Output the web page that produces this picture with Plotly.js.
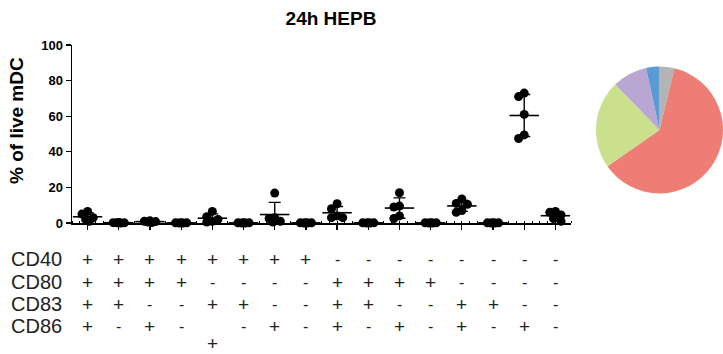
<!DOCTYPE html>
<html>
<head>
<meta charset="utf-8">
<script src="https://cdn.plot.ly/plotly-3.0.1.min.js"></script>
<style>html,body{margin:0;padding:0;background:#fff;}#chart{width:723px;height:354px;}</style>
</head>
<body>
<div id="chart"></div>
<script>
// ---- data ----
const groups = [1,2,3,4,5,6,7,8,9,10,11,12,13,14,15,16];
const values = [
  [6.5, 5, 3, 2, 1],
  [0.3, 0.2, 0.1, 0.1, 0],
  [1.2, 1, 0.8, 0.5, 0.3],
  [0.2, 0.1, 0.1, 0, 0],
  [6.5, 3.5, 2, 1, 0.5],
  [0.2, 0.1, 0.1, 0, 0],
  [16.8, 3, 2.5, 1, 0.5],
  [0.2, 0.1, 0.1, 0, 0],
  [10.8, 8, 4, 3, 3],
  [0.2, 0.1, 0.1, 0, 0],
  [17, 9.5, 9, 4, 2.5],
  [0.2, 0.1, 0.1, 0, 0],
  [13.5, 11, 10.5, 7, 6],
  [0.2, 0.1, 0.1, 0, 0],
  [73, 71, 61, 49.5, 47.5],
  [6.5, 6, 4.5, 2.5, 1]
];
const rowLabels = ['CD40', 'CD80', 'CD83', 'CD86', ''];
const cd40 = ['+','+','+','+','+','+','+','+','-','-','-','-','-','-','-','-'];
const cd80 = ['+','+','+','+','-','-','-','-','+','+','+','+','-','-','-','-'];
const cd83 = ['+','+','-','-','+','+','-','-','+','+','-','-','+','+','-','-'];
const cd86 = ['+','-','+','-','','-','+','-','+','-','+','-','+','-','+','-'];
const extraRow = ['','','','','+','','','','','','','','','','',''];
const yTicks = [0, 20, 40, 60, 80, 100];
const pieLabels = ['grey', 'red', 'green', 'purple', 'blue'];
const pieValues = [3.8, 61.5, 22.4, 8.9, 3.4];
const pieColors = ['#b4b4b4', '#ee7d75', '#cbe08c', '#b9a6d3', '#5b9bd5'];

// ---- layout constants ----
const W = 723, H = 354;
const mL = 72, mR = 0, mT = 45, mB = 131;
const axisRight = 571;
const plotW = W - mL - mR, plotH = H - mT - mB;
const xRange = [0.5, 16.5];
const yRange = [0, 100];
const pxPerX = (axisRight - mL) / (xRange[1] - xRange[0]);
const pxPerY = plotH / (yRange[1] - yRange[0]);
const FONT = 'Liberation Sans, Arial, sans-serif';

// compact beeswarm placement for dots
function swarm(vals) {
  const placed = [];
  const step = 0.06, minDist = 9, maxK = 3;
  const cands = [0];
  for (let k = 1; k <= maxK; k++) { cands.push(-k * step, k * step); }
  return vals.map(v => {
    let best = 0, bestD = -1;
    for (const c of cands) {
      const d = placed.length ? Math.min(...placed.map(p => Math.hypot((p.o - c) * pxPerX, (p.v - v) * pxPerY))) : Infinity;
      if (d >= minDist) { best = c; break; }
      if (d > bestD + 0.01) { bestD = d; best = c; }
    }
    placed.push({o: best, v: v});
    return best;
  });
}

const dx = [], dy = [];
values.forEach((vals, i) => {
  const offs = swarm(vals);
  vals.forEach((v, j) => { dx.push(groups[i] + offs[j]); dy.push(v); });
});

const means = values.map(v => v.reduce((a, b) => a + b, 0) / v.length);
const sds = values.map((v, i) => {
  const m = means[i];
  return Math.sqrt(v.reduce((a, b) => a + (b - m) * (b - m), 0) / (v.length - 1));
});

const traces = [
  {
    type: 'scatter', mode: 'markers', x: dx, y: dy, cliponaxis: false,
    marker: {color: '#000', size: 9, line: {width: 0}},
    hoverinfo: 'skip', showlegend: false
  },
  {
    type: 'scatter', mode: 'markers', x: groups, y: means, cliponaxis: false,
    marker: {symbol: 'line-ew', size: 21, color: '#000', line: {width: 1.6, color: '#000'}},
    error_y: {type: 'data', array: sds, visible: true, color: '#000', thickness: 1.4, width: 6},
    hoverinfo: 'skip', showlegend: false
  },
  {
    type: 'pie', labels: pieLabels, values: pieValues, sort: false,
    direction: 'clockwise', rotation: 0, textinfo: 'none', hoverinfo: 'skip',
    marker: {colors: pieColors, line: {width: 0}},
    domain: {x: [(596 - mL) / plotW, 1], y: [(H - mB - 194) / plotH, (H - mB - 66) / plotH]},
    showlegend: false
  }
];

// table annotations
const annotations = [];
const rows = [cd40, cd80, cd83, cd86, extraRow];
const rowY = [259, 282, 304, 326, 343];
rows.forEach((row, r) => {
  const yp = 1 - (rowY[r] - mT) / plotH;
  if (rowLabels[r]) {
    annotations.push({
      text: rowLabels[r], xref: 'paper', yref: 'paper', x: (9 - mL) / plotW, y: yp,
      xanchor: 'left', yanchor: 'middle', showarrow: false,
      font: {family: FONT, size: 20, color: '#222'}
    });
  }
  row.forEach((s, i) => {
    if (!s) return;
    annotations.push({
      text: s, xref: 'x', yref: 'paper', x: groups[i], y: yp,
      xanchor: 'center', yanchor: 'middle', showarrow: false,
      font: {family: FONT, size: s === '+' ? 19 : 16, color: '#222'}
    });
  });
});
// y-axis title placed as rotated annotation
annotations.push({
  text: '<b>% of live mDC</b>', xref: 'paper', yref: 'paper',
  x: (17 - mL) / plotW, y: 1 - (121 - mT) / plotH, textangle: -90,
  xanchor: 'center', yanchor: 'middle', showarrow: false,
  font: {family: FONT, size: 19, color: '#000'}
});

const layout = {
  width: W, height: H,
  margin: {l: mL, r: mR, t: mT, b: mB, pad: 0},
  paper_bgcolor: '#fff', plot_bgcolor: '#fff',
  title: {
    text: '<b>24h HEPB</b>', xref: 'container', yref: 'container',
    x: 331 / W, xanchor: 'center', y: 1 - 18 / H, yanchor: 'middle',
    font: {family: FONT, size: 19, color: '#000'}
  },
  xaxis: {
    domain: [0, (axisRight - mL) / plotW], range: xRange,
    tickvals: groups, showticklabels: false, ticks: 'outside', ticklen: 5,
    tickwidth: 1.3, tickcolor: '#000',
    showline: true, linecolor: '#000', linewidth: 1.5,
    showgrid: false, zeroline: false, fixedrange: true,
    minor: {dtick: 0.25, tick0: 0.5, ticks: 'inside', ticklen: 2, tickcolor: '#000', tickwidth: 1, showgrid: false}
  },
  yaxis: {
    range: yRange, tickvals: yTicks, ticktext: yTicks.map(t => '<b>' + t + '</b>'),
    ticks: 'outside', ticklen: 5, tickwidth: 1.3, tickcolor: '#000',
    showline: true, linecolor: '#000', linewidth: 1.5,
    showgrid: false, zeroline: false, fixedrange: true,
    tickfont: {family: FONT, size: 13, color: '#000'}
  },
  annotations: annotations,
  showlegend: false
};

Plotly.newPlot('chart', traces, layout, {displayModeBar: false, staticPlot: true});
</script>
</body>
</html>
